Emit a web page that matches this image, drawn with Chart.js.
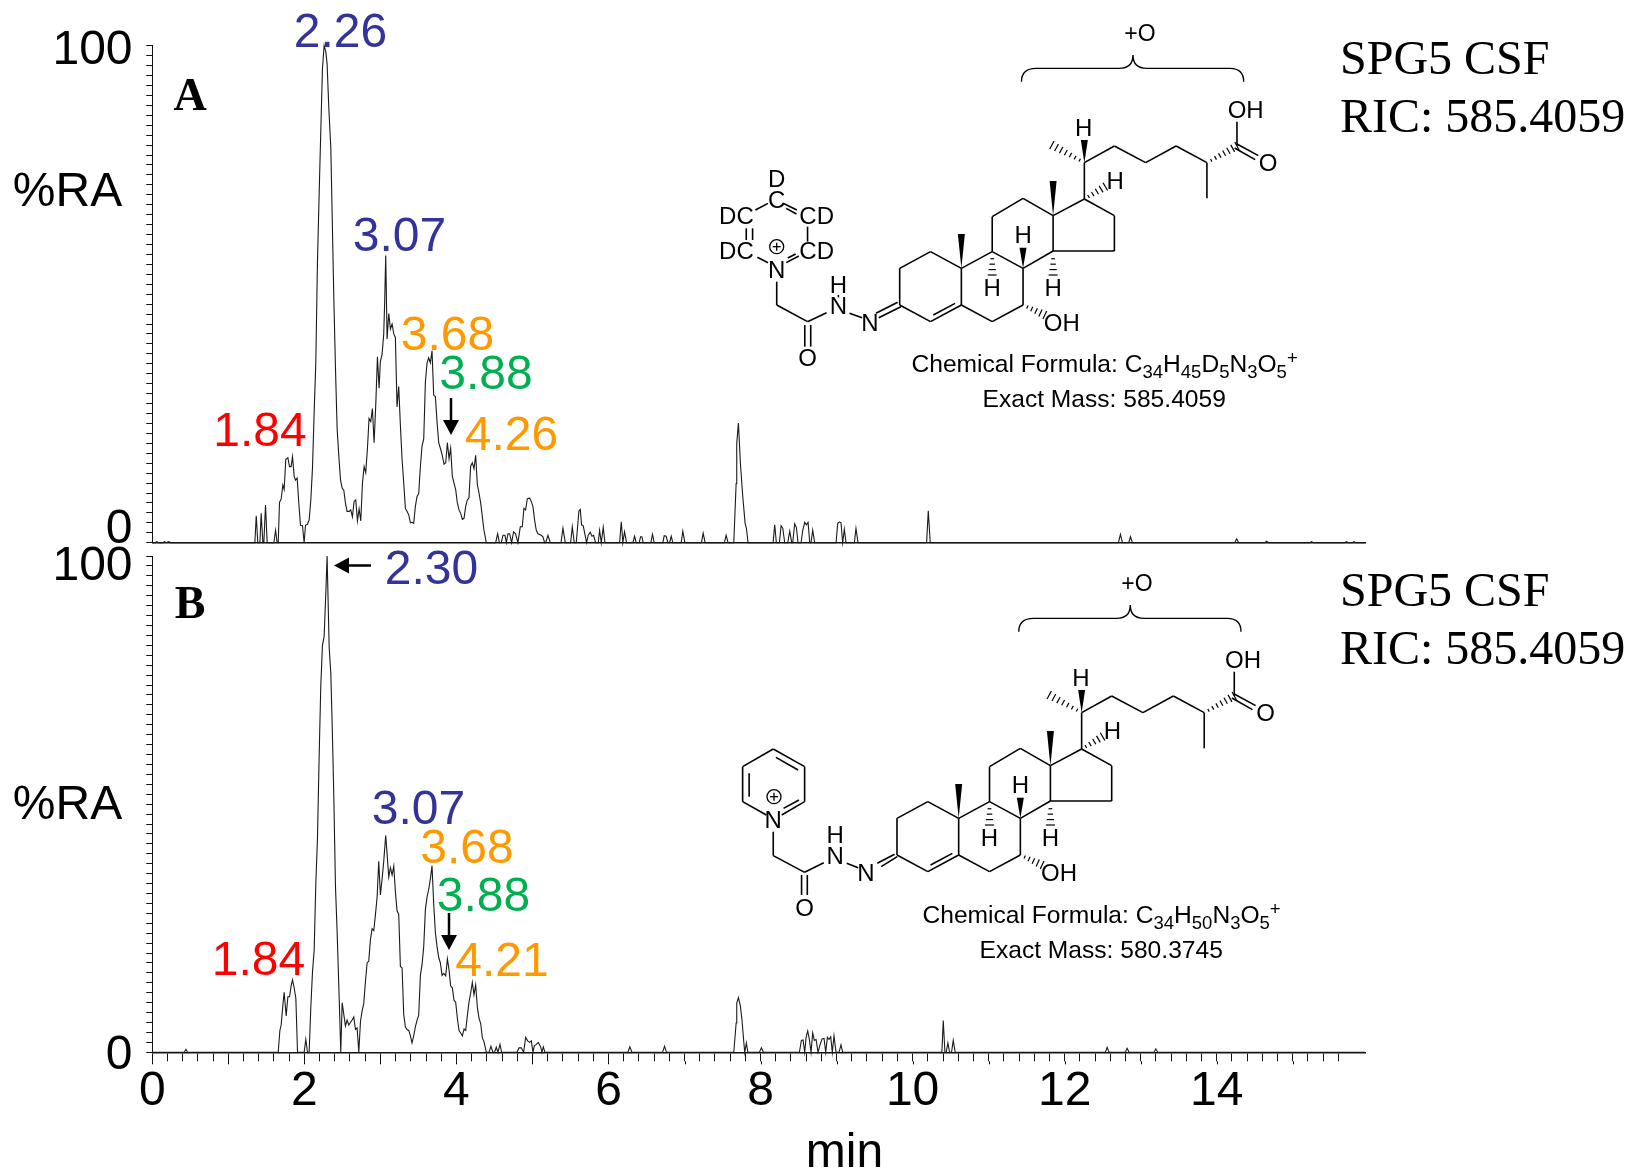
<!DOCTYPE html>
<html lang="en">
<head>
    <meta charset="UTF-8">
    <title>SPG5 CSF RIC 585.4059</title>
    <script src="https://cdn.jsdelivr.net/npm/chart.js"></script>
    <style>
        html, body { margin: 0; padding: 0; background: #fff; }
        canvas { position: absolute; left: 0; }
    </style>
</head>
<body>
    <canvas id="panelA" style="top:0"></canvas>
    <canvas id="panelB" style="top:540px"></canvas>

    <script>
        // Panel A trace (retention time in min, %RA)
        const timesA = [0,0.04,0.06,0.08,0.14,0.16,0.18,0.22,0.24,0.26,1.349,1.367,1.388,1.415,1.432,1.454,1.467,1.489,1.511,1.599,1.621,1.642,1.656,1.673,1.695,1.717,1.734,1.756,1.783,1.805,1.826,1.844,1.866,1.883,1.905,1.927,1.949,1.975,1.997,2.015,2.041,2.063,2.085,2.107,2.129,2.151,2.172,2.194,2.216,2.238,2.26,2.282,2.299,2.321,2.348,2.365,2.387,2.409,2.431,2.453,2.475,2.497,2.519,2.54,2.562,2.589,2.61,2.632,2.654,2.676,2.698,2.72,2.742,2.764,2.786,2.807,2.829,2.851,2.873,2.895,2.917,2.939,2.961,2.983,3,3.022,3.044,3.057,3.07,3.088,3.11,3.132,3.154,3.176,3.197,3.219,3.241,3.263,3.285,3.307,3.329,3.351,3.373,3.395,3.416,3.438,3.46,3.482,3.504,3.526,3.548,3.57,3.592,3.614,3.635,3.657,3.679,3.701,3.723,3.745,3.767,3.793,3.815,3.837,3.859,3.881,3.903,3.924,3.946,3.968,3.99,4.012,4.034,4.056,4.078,4.1,4.122,4.143,4.165,4.187,4.209,4.231,4.253,4.275,4.297,4.319,4.341,4.362,4.393,4.516,4.542,4.564,4.59,4.612,4.638,4.656,4.678,4.7,4.726,4.752,4.778,4.809,4.84,4.866,4.888,4.91,4.932,4.962,4.984,5.006,5.028,5.05,5.072,5.116,5.138,5.16,5.173,5.204,5.235,5.375,5.401,5.432,5.502,5.524,5.55,5.576,5.611,5.629,5.646,5.668,5.712,5.734,5.76,5.782,5.804,5.83,5.865,5.883,5.905,5.931,5.953,6.146,6.168,6.189,6.211,6.238,6.321,6.343,6.365,6.404,6.422,6.439,6.457,6.557,6.579,6.601,6.715,6.733,6.759,6.781,6.803,6.825,6.846,6.956,6.978,7.004,7.223,7.245,7.271,7.525,7.547,7.573,7.648,7.679,7.687,7.709,7.735,7.766,7.797,7.814,7.836,8.165,8.186,8.208,8.248,8.27,8.292,8.318,8.358,8.384,8.41,8.423,8.449,8.471,8.493,8.533,8.555,8.581,8.603,8.625,8.647,8.664,8.686,8.712,8.993,9.015,9.037,9.058,9.08,9.102,9.124,9.234,9.255,9.282,10.184,10.206,10.232,12.707,12.733,12.76,12.843,12.865,12.891,14.236,14.262,14.288,14.634,14.656,14.678,15.225,15.247,15.27,15.685,15.707,15.73,15.782,15.804,15.826,15.95];
        const valuesA = [0,0,0.2,0,0,0.2,0,0.2,0,0,0,5.4,0,0,5.9,0,0,7.6,0,0,2.5,0,0,8.1,8.8,11.6,10.7,16.8,17.1,15.3,15.3,17.3,13.4,12.6,13,8,3.5,3.4,0,3.5,3.7,4.6,8.6,15.1,26.3,36.5,56.3,69.9,82.8,95.4,100,98.8,96.4,87.6,79.4,66.5,49.5,35.2,22.9,17.5,12.7,11,10.5,8,6.3,6.3,6.6,5.2,8.3,8.6,4.4,6.8,4.4,12,15.3,14.1,18.8,25,24.4,27,20.1,27.7,37.4,31.1,36.5,37.9,42,48.8,57.8,41,46.1,43,44,42,41.3,27.3,31.4,23.6,16.8,12,6.9,6.3,5.6,4,4.1,3.9,7.3,9.3,9.9,15.4,19.5,20.9,32.4,36.2,37.2,36.2,38.6,29.7,29.4,24.3,20.1,18.8,17.5,15.8,16.1,20.1,16.9,19,13.4,12,10.7,8,6.6,5.9,4.7,4.9,7.3,8.6,9,15.4,16.1,14.9,17.6,11.7,10,8,5.2,2.5,0,0,1.8,0,0,1.5,1.5,0,1.8,1.8,0,2.2,1.8,0,3.2,3.2,6.9,6.6,8.8,9,8.3,7.3,4.6,2.5,1.8,1.5,1.2,0,0,1.5,0,0,2.9,0,0,3.2,0,0,6.4,6.7,3.6,3.4,0,1.5,2.1,1.3,1.5,0,0,2.5,0,3.1,0,0,4.2,0,2.2,0,0,1.3,0,0,1.2,1.2,0,0,1.7,0,0,1.4,1.3,0,0,1.3,0,0,2.3,0,0,1.9,0,0,1.5,0,0,11.9,20,24.1,16,9.3,3.9,2.9,0,0,3.6,0,0,3.4,2.9,0,0,2.3,0,0,3.8,3.1,0,0,2.5,4.1,3.6,4.1,0,0,2.5,0,0,3.9,4.2,4,0,2.7,0,0,2.9,0,0,6.4,0,0,1.7,0,0,1.2,0,0,0.8,0,0,0.3,0,0,0.2,0,0,0.2,0,0,0.2,0,0];

        // Panel B trace
        const timesB = [0,0.42,0.442,0.465,1.656,1.678,1.695,1.717,1.734,1.761,1.783,1.805,1.826,1.844,1.866,1.888,1.91,1.997,2.019,2.041,2.063,2.085,2.107,2.129,2.151,2.172,2.194,2.216,2.238,2.26,2.282,2.299,2.326,2.348,2.365,2.387,2.409,2.431,2.453,2.479,2.497,2.519,2.54,2.562,2.584,2.606,2.628,2.65,2.672,2.694,2.716,2.738,2.759,2.781,2.803,2.825,2.847,2.869,2.891,2.913,2.935,2.957,2.978,3,3.022,3.044,3.07,3.088,3.11,3.132,3.154,3.176,3.197,3.219,3.241,3.263,3.285,3.307,3.329,3.351,3.373,3.395,3.416,3.438,3.46,3.482,3.504,3.526,3.548,3.57,3.592,3.614,3.635,3.657,3.679,3.701,3.723,3.745,3.767,3.789,3.811,3.833,3.859,3.881,3.903,3.924,3.946,3.968,3.99,4.012,4.034,4.056,4.078,4.1,4.122,4.143,4.165,4.187,4.209,4.231,4.253,4.275,4.297,4.319,4.341,4.362,4.393,4.428,4.454,4.48,4.502,4.524,4.546,4.573,4.595,4.797,4.823,4.853,4.884,4.91,4.937,4.963,4.985,5.007,5.024,5.051,5.077,5.108,5.125,5.143,5.164,6.255,6.281,6.308,6.711,6.737,6.763,7.648,7.679,7.687,7.709,7.735,7.757,7.779,7.792,7.814,7.832,7.985,8.011,8.038,8.511,8.537,8.559,8.581,8.598,8.62,8.642,8.664,8.686,8.708,8.73,8.756,8.782,8.809,8.835,8.857,8.879,8.901,8.923,8.944,8.966,8.993,9.032,9.058,9.08,10.385,10.403,10.425,10.442,10.464,10.486,10.512,10.534,10.56,12.536,12.558,12.584,12.799,12.821,12.847,13.176,13.198,13.224,15.95];
        const valuesB = [0,0,0.6,0,0,4.4,5.5,9.4,12.1,7.3,11.2,11.2,13.4,14.6,13,10.9,0,0,2.6,0,0,9.1,16.2,20.6,34.2,42.8,59.4,73.8,82,83.8,92.5,100,81.7,76.3,66.6,51.8,33.5,24.2,13.4,0,10,7.6,5.3,6.5,5.5,6,6.5,7.1,4.6,4.9,0,6.2,8.3,9.8,14.1,18,18.4,22.7,24.9,24.5,27.8,31.3,38.5,31.7,34.9,38.5,43.7,40,35.3,37.2,35.7,37.5,32.4,28.5,27.8,17.3,17,7.6,5.1,4.6,4.4,3.3,1.9,3.3,5.1,6.5,7.5,15.5,17.7,21.3,28.8,31.3,32.8,34.9,37.6,29.9,24.2,21.3,19.1,18,15.5,15.9,15.4,18.8,16.6,13.4,13,10.5,10.1,6.9,4.4,3.9,3.3,4.7,4.4,7.3,10.1,11.9,14.1,11.6,13.6,9.1,6.9,5.8,2.9,2.2,0,0,1.2,0,0,1,0,1.6,0,0,0.9,0.9,0,3,2.3,2,2.3,0,1.3,1.6,2,1.1,0,1.1,0,0,1.1,0,0,1.2,0,0,5.9,9.9,11,9.3,6.3,2.2,0,1.9,0,0,0.9,0,0,2.4,2.5,0,2.9,4.3,2.6,0,3.9,2.4,2.6,0,1.5,2.7,2.8,0,3,2.6,3.1,0,3.3,0,0,1.5,0,0,6.4,0,0,1.9,0,0,2.4,0,0,1,0,0,0.8,0,0,0.7,0,0];

        const xTickLabels = ['0', '2', '4', '6', '8', '10', '12', '14'];
        const yTickLabels = ['0', '100'];
        const yTitle = '%RA';
        const xTitle = 'min';
        const sampleTitle = 'SPG5 CSF';
        const ricTitle = 'RIC: 585.4059';
        const peakTextA = ['2.26', '3.07', '3.68', '3.88', '4.26', '1.84'];
        const peakTextB = ['2.30', '3.07', '3.68', '3.88', '4.21', '1.84'];
        const peakColors = ['#333399', '#333399', '#ff9900', '#00b050', '#ff9900', '#ff0000'];

        const sans = '"Liberation Sans", Arial, sans-serif';
        const serif = '"Liberation Serif", "Times New Roman", serif';

        // Where the peak labels sit on the page (centre x, centre y)
        const peakPosA = [[340.5, 34], [399.5, 238], [447.5, 337], [486, 375.5], [511.5, 437], [260, 433]];
        const peakPosB = [[431.5, 571], [418.5, 811], [467, 850], [483.5, 898], [502, 963], [258.5, 961.5]];

        // Molecule drawing, in units of the crop it was traced from
        const steroidBonds = [
            [505,745,583,695],[583,695,661,745],[661,745,661,855],[661,855,583,905],[583,905,505,855],[505,855,505,745],
            [590,885,645,850],
            [661,745,739,695],[739,695,817,745],[817,745,817,855],[817,855,739,905],[739,905,661,855],
            [739,695,739,590],[739,590,817,535],[817,535,893,587],[893,587,893,693],[893,693,817,745],
            [893,587,972,537],[972,537,1048,587],[1048,587,1048,693],[1048,693,893,693],
            [972,537,972,428],[972,428,1048,378],[1048,378,1127,428],[1127,428,1204,378],[1204,378,1282,428],
            [1282,428,1282,535],[1358,378,1358,305],[1358,372,1412,407],[1352,384,1404,419]
        ];
        const steroidWedges = [[661,745,661,642],[893,587,893,483],[817,745,817,683],[972,428,972,360]];
        const steroidHashes = [[739,700,739,765],[893,700,893,765],[817,855,872,885],[972,537,1025,500],[972,428,890,375],[1282,428,1358,378]];
        const steroidAtoms = [['H',817,645],['H',739,805],['H',893,805],['OH',915,910],['H',1050,485],['H',970,325],['OH',1380,272],['O',1437,430]];

        const headBondsA = [
            [140,570,172,550],[210,550,245,570],[218,565,244,582],[272,620,272,665],[117,625,117,660],[133,625,133,660],
            [145,712,172,728],[218,728,250,708],[222,714,242,702],
            [194,785,194,855],[194,855,272,905],[272,905,320,878],[265,915,265,980],[280,915,280,980],
            [350,825,350,832],[378,880,410,893],[445,880,500,847],[452,893,508,860]
        ];
        const headAtomsA = [['D',194,478],['C',194,540],['DC',92,590],['CD',295,590],['DC',92,695],['CD',295,695],['N',194,752],['H',350,797],['N',350,858],['N',430,910],['O',272,1015]];

        const headBondsB = [
            [113,537,195,590],[195,590,195,695],[195,695,135,735],[95,735,33,695],[33,695,33,590],[33,590,113,537],
            [120,562,178,600],[50,610,50,680],[140,715,180,690],
            [113,785,113,857],[113,857,195,907],[195,907,245,878],[187,915,187,975],[202,915,202,975],
            [305,880,335,893],[385,880,430,853],[395,890,437,860]
        ];
        const headAtomsB = [['N',113,750],['H',275,797],['N',275,858],['N',355,910],['O',195,1015]];

        function strokeLine(ctx, x1, y1, x2, y2) {
            ctx.beginPath();
            ctx.moveTo(x1, y1);
            ctx.lineTo(x2, y2);
            ctx.stroke();
        }

        function centerText(ctx, text, x, y, font, color) {
            ctx.font = font;
            ctx.fillStyle = color || '#000';
            ctx.textAlign = 'center';
            ctx.textBaseline = 'middle';
            ctx.fillText(text, x, y);
        }

        // text with sub/superscripts, parts are [text, 0 normal / 1 sub / -1 super]
        function richText(ctx, parts, x, y) {
            ctx.fillStyle = '#000';
            ctx.textAlign = 'left';
            ctx.textBaseline = 'alphabetic';
            parts.forEach(p => {
                ctx.font = (p[1] === 0 ? 24.6 : 18.5) + 'px ' + sans;
                ctx.fillText(p[0], x, y + p[1] * 6 + (p[1] < 0 ? -2 : 0));
                x += ctx.measureText(p[0]).width;
            });
        }

        function drawAtoms(ctx, atoms, map) {
            atoms.forEach(a => {
                const p = map(a[1], a[2]);
                centerText(ctx, a[0], p[0], p[1] + 1, '24px ' + sans);
            });
        }

        function drawBonds(ctx, bonds, map) {
            ctx.strokeStyle = '#000';
            ctx.lineWidth = 1.6;
            bonds.forEach(b => {
                const p = map(b[0], b[1]);
                const q = map(b[2], b[3]);
                strokeLine(ctx, p[0], p[1], q[0], q[1]);
            });
        }

        function drawCharge(ctx, x, y) {
            ctx.strokeStyle = '#000';
            ctx.lineWidth = 1.3;
            ctx.beginPath();
            ctx.arc(x, y, 7, 0, Math.PI * 2);
            ctx.stroke();
            strokeLine(ctx, x - 4, y, x + 4, y);
            strokeLine(ctx, x, y - 4, x, y + 4);
        }

        function drawBrace(ctx, map) {
            const pt = (x, y) => map(x, y);
            ctx.strokeStyle = '#000';
            ctx.lineWidth = 1.4;
            ctx.beginPath();
            ctx.moveTo(...pt(813, 185));
            ctx.quadraticCurveTo(...pt(813, 145), ...pt(850, 145));
            ctx.lineTo(...pt(1060, 145));
            ctx.quadraticCurveTo(...pt(1095, 145), ...pt(1095, 105));
            ctx.quadraticCurveTo(...pt(1095, 145), ...pt(1130, 145));
            ctx.lineTo(...pt(1340, 145));
            ctx.quadraticCurveTo(...pt(1375, 145), ...pt(1375, 185));
            ctx.stroke();
        }

        function drawSteroid(ctx, map) {
            drawBonds(ctx, steroidBonds, map);
            steroidWedges.forEach(w => {
                const p = map(w[0], w[1]);
                const q = map(w[2], w[3]);
                ctx.fillStyle = '#000';
                ctx.beginPath();
                ctx.moveTo(p[0], p[1]);
                ctx.lineTo(q[0] - 3.5, q[1]);
                ctx.lineTo(q[0] + 3.5, q[1]);
                ctx.closePath();
                ctx.fill();
            });
            ctx.lineWidth = 1.2;
            steroidHashes.forEach(h => {
                const p = map(h[0], h[1]);
                const q = map(h[2], h[3]);
                const dx = q[0] - p[0], dy = q[1] - p[1];
                const len = Math.hypot(dx, dy);
                const steps = Math.max(3, Math.round(len / 5));
                for (let i = 1; i <= steps; i++) {
                    const f = i / steps;
                    const cx = p[0] + dx * f, cy = p[1] + dy * f;
                    const w = 1 + f * 3.5;
                    strokeLine(ctx, cx - dy / len * w, cy + dx / len * w, cx + dy / len * w, cy - dx / len * w);
                }
            });
            drawAtoms(ctx, steroidAtoms, map);
            drawBrace(ctx, map);
        }

        // Page-position annotations drawn once the chart has finished
        function annotations(panel) {
            return {
                id: 'annotations',
                afterDraw(chart) {
                    const ctx = chart.ctx;
                    const xs = chart.scales.x;
                    const ys = chart.scales.y;
                    ctx.save();

                    // integer minutes get slightly longer ticks on the lower panel
                    if (panel.top > 0) {
                        ctx.strokeStyle = '#000';
                        ctx.lineWidth = 1;
                        xs.ticks.forEach(t => {
                            if (Math.abs(t.value - Math.round(t.value)) < 1e-6) {
                                const px = Math.round(xs.getPixelForValue(t.value)) + 0.5;
                                strokeLine(ctx, px, ys.bottom + 9, px, ys.bottom + 12);
                            }
                        });
                    }

                    ctx.translate(0, -panel.top);
                    const big = '48px ' + sans;
                    centerText(ctx, yTickLabels[1], 92.5, panel.y100, big);
                    centerText(ctx, yTickLabels[0], 119, panel.y0, big);
                    centerText(ctx, yTitle, 67.5, panel.yTitleY, big);
                    panel.peakText.forEach((t, i) => {
                        centerText(ctx, t, panel.peakPos[i][0], panel.peakPos[i][1], big, peakColors[i]);
                    });
                    centerText(ctx, panel.letter, 190, panel.letterY, 'bold 46px ' + serif);

                    ctx.textAlign = 'left';
                    ctx.textBaseline = 'middle';
                    ctx.font = '48px ' + serif;
                    ctx.fillStyle = '#000';
                    ctx.fillText(sampleTitle, 1340, panel.sampleY);
                    ctx.fillText(ricTitle, 1340, panel.sampleY + 58);

                    // arrows next to the peaks
                    ctx.fillStyle = '#000';
                    ctx.strokeStyle = '#000';
                    ctx.lineWidth = 2.5;
                    panel.arrows.forEach(a => {
                        const ang = Math.atan2(a[3] - a[1], a[2] - a[0]);
                        const hx = a[2] - Math.cos(ang) * 15, hy = a[3] - Math.sin(ang) * 15;
                        strokeLine(ctx, a[0], a[1], hx, hy);
                        ctx.beginPath();
                        ctx.moveTo(a[2], a[3]);
                        ctx.lineTo(hx - Math.sin(ang) * 8, hy + Math.cos(ang) * 8);
                        ctx.lineTo(hx + Math.sin(ang) * 8, hy - Math.cos(ang) * 8);
                        ctx.closePath();
                        ctx.fill();
                    });

                    panel.molecule(ctx);
                    ctx.restore();
                }
            };
        }

        function renderPanel(id, panel, times, values) {
            const canvas = document.getElementById(id);
            canvas.width = 1630;
            canvas.height = panel.height;
            return new Chart(canvas.getContext('2d'), {
                type: 'line',
                data: {
                    datasets: [{
                        data: times.map((t, i) => ({ x: t, y: values[i] })),
                        borderColor: '#1a1a1a',
                        borderWidth: 1.1,
                        pointRadius: 0,
                        tension: 0,
                        fill: false,
                        clip: false
                    }]
                },
                options: {
                    responsive: false,
                    animation: false,
                    layout: { padding: { left: 0, right: 265, top: panel.plotTop, bottom: 0 } },
                    plugins: { legend: { display: false }, tooltip: { enabled: false } },
                    scales: {
                        x: {
                            type: 'linear',
                            min: 0,
                            max: 15.95,
                            afterBuildTicks: scale => {
                                scale.ticks = scale.ticks.filter(t => t.value <= 15.85);
                            },
                            afterFit: scale => { scale.height = panel.axisHeight; },
                            border: { color: '#111', width: 1.5 },
                            grid: {
                                drawOnChartArea: false,
                                drawTicks: panel.xTicks,
                                tickLength: 9,
                                tickColor: '#111',
                                tickWidth: 1
                            },
                            ticks: {
                                display: panel.xTicks,
                                stepSize: 0.2,
                                autoSkip: false,
                                maxRotation: 0,
                                padding: 2,
                                color: '#000',
                                font: { family: sans, size: 48 },
                                callback: v => {
                                    const i = v / 2;
                                    return Math.abs(i - Math.round(i)) < 1e-6 ? (xTickLabels[Math.round(i)] || '') : '';
                                }
                            }
                        },
                        y: {
                            min: 0,
                            max: 100,
                            afterFit: scale => { scale.width = 152.3; },
                            border: { color: '#111', width: 1 },
                            grid: {
                                drawOnChartArea: false,
                                drawTicks: true,
                                tickLength: 6,
                                tickColor: '#111',
                                tickWidth: 1
                            },
                            ticks: { display: false, stepSize: 2 }
                        }
                    }
                },
                plugins: [annotations(panel)]
            });
        }

        const mapA = (x, y) => [700 + x / 2.529, 20 + y / 3];
        const mapSteroidB = (x, y) => [697.3 + x / 2.529, 570 + y / 3];
        const mapHeadB = (x, y) => [730 + x / 2.613, 570 + y / 3];

        renderPanel('panelA', {
            top: 0, height: 560, plotTop: 45.7, axisHeight: 17.3, xTicks: false,
            y100: 50.5, y0: 529.5, yTitleY: 193, letter: 'A', letterY: 98, sampleY: 61,
            peakText: peakTextA, peakPos: peakPosA,
            arrows: [[451, 398, 451, 435]],
            molecule(ctx) {
                drawSteroid(ctx, mapA);
                drawBonds(ctx, headBondsA, mapA);
                drawAtoms(ctx, headAtomsA, mapA);
                drawCharge(ctx, 776.7, 246.7);
                centerText(ctx, '+O', 1140, 35, '23px ' + sans);
                richText(ctx, [['Chemical Formula: C', 0], ['34', 1], ['H', 0], ['45', 1], ['D', 0], ['5', 1], ['N', 0], ['3', 1], ['O', 0], ['5', 1], ['+', -1]], 911.5, 372);
                richText(ctx, [['Exact Mass: 585.4059', 0]], 982.5, 407);
            }
        }, timesA, valuesA);

        renderPanel('panelB', {
            top: 540, height: 631, plotTop: 16, axisHeight: 118.7, xTicks: true,
            y100: 566.5, y0: 1055.5, yTitleY: 806, letter: 'B', letterY: 606, sampleY: 593,
            peakText: peakTextB, peakPos: peakPosB,
            arrows: [[371, 565.5, 334, 565.5], [449, 913, 449, 950]],
            molecule(ctx) {
                drawSteroid(ctx, mapSteroidB);
                drawBonds(ctx, headBondsB, mapHeadB);
                drawAtoms(ctx, headAtomsB, mapHeadB);
                drawCharge(ctx, 774, 796.7);
                centerText(ctx, '+O', 1137, 585, '23px ' + sans);
                richText(ctx, [['Chemical Formula: C', 0], ['34', 1], ['H', 0], ['50', 1], ['N', 0], ['3', 1], ['O', 0], ['5', 1], ['+', -1]], 922.5, 923);
                richText(ctx, [['Exact Mass: 580.3745', 0]], 979.5, 958);
                centerText(ctx, xTitle, 844.5, 1154, '48px ' + sans);
            }
        }, timesB, valuesB);
    </script>
</body>
</html>
